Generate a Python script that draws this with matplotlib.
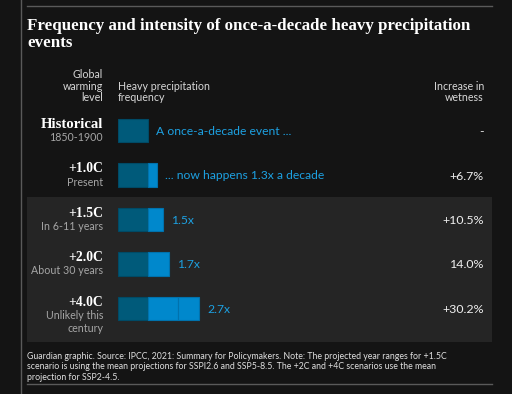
import matplotlib
matplotlib.use("Agg")
import matplotlib.pyplot as plt
from matplotlib.patches import Rectangle

# ---- data ----
levels = ["Historical", "+1.0C", "+1.5C", "+2.0C", "+4.0C"]
sublabels = ["1850-1900", "Present", "In 6-11 years", "About 30 years", "Unlikely this\ncentury"]
frequency = [1.0, 1.3, 1.5, 1.7, 2.7]
freq_labels = ["A once-a-decade event ...", "... now happens 1.3x a decade", "1.5x", "1.7x", "2.7x"]
wetness = ["-", "+6.7%", "+10.5%", "14.0%", "+30.2%"]

W, H = 512, 394
BG = "#141414"
PANEL = "#252525"
DARK = "#005a7a"
BRIGHT = "#0088cc"
EDGE_D = "#004a66"
EDGE_B = "#0072ad"
TXTBLUE = "#1da1e2"
GREY = "#a6a6a6"
WHITE = "#f0f0f0"
SANS = ["Lato", "DejaVu Sans"]
SERIF = ["Liberation Serif", "DejaVu Serif"]

fig = plt.figure(figsize=(W / 100, H / 100), dpi=100, facecolor=BG)
bg = fig.add_axes([0, 0, 1, 1])
bg.set_xlim(0, W)
bg.set_ylim(H, 0)
bg.axis("off")
bg.set_facecolor(BG)

# frame lines
bg.plot([20.5, 20.5], [0, H], color="#5a5a5a", lw=1)
bg.plot([27, 492], [5.5, 5.5], color="#5a5a5a", lw=1)
bg.plot([27, 492], [383.5, 383.5], color="#5a5a5a", lw=1)
# shaded panel
bg.add_patch(Rectangle((27, 197), 465, 145, facecolor=PANEL, edgecolor="none"))

# title
bg.text(27, 34.5, "Frequency and intensity of once-a-decade heavy precipitation\nevents",
        family=SERIF, weight="bold", fontsize=12.2, color="white", va="center",
        linespacing=1.05)

# headers
hs = 7.7
bg.text(103, 86, "Global\nwarming\nlevel", family=SANS, fontsize=hs, color="#d8d8d8",
        ha="right", va="center", linespacing=1.1)
bg.text(118, 92, "Heavy precipitation\nfrequency", family=SANS, fontsize=hs, color="#d8d8d8",
        ha="left", va="center", linespacing=1.1)
bg.text(484, 92, "Increase in\nwetness", family=SANS, fontsize=hs, color="#d8d8d8",
        ha="right", va="center", linespacing=1.1)

# bar axes: x in frequency units (30 px per unit), rows by index
x0, x1 = 118, 484
ytop, ybot = 108.25, 330.75
ax = fig.add_axes([x0 / W, 1 - ybot / H, (x1 - x0) / W, (ybot - ytop) / H])
ax.set_xlim(0, (x1 - x0) / 30)
ax.set_ylim(len(levels) - 0.5, -0.5)
ax.axis("off")
ax.patch.set_alpha(0)

bh = 0.52
for i, f in enumerate(frequency):
    # first unit dark
    ax.barh(i, min(f, 1.0), left=0, height=bh, color=DARK, edgecolor=EDGE_D, lw=0.8)
    rem = f - 1.0
    left = 1.0
    while rem > 1e-9:
        seg = min(1.0, rem)
        ax.barh(i, seg, left=left, height=bh, color=BRIGHT, edgecolor=EDGE_B, lw=0.8)
        left += seg
        rem -= seg
    ax.text(f + 0.27, i + 0.02, freq_labels[i], family=SANS, fontsize=8.7, color=TXTBLUE,
            ha="left", va="center")
    # left labels
    ypix = ytop + (i + 0.5) * (ybot - ytop) / len(levels)
    big = 10.6 if i == 0 else 9.8
    bg.text(103, ypix - 6.5, levels[i], family=SERIF, weight="bold", fontsize=big,
            color="white", ha="right", va="center")
    bg.text(103, ypix + 7 + (6.5 if "\n" in sublabels[i] else 0), sublabels[i], family=SANS,
            fontsize=7.7, color=GREY, ha="right", va="center", linespacing=1.2)
    bg.text(484, ypix + 1, wetness[i], family=SANS, fontsize=8.9, color=WHITE,
            ha="right", va="center")

# footnote
bg.text(27, 352, "Guardian graphic. Source: IPCC, 2021: Summary for Policymakers. Note: The projected year ranges for +1.5C\n"
        "scenario is using the mean projections for SSPI2.6 and SSP5-8.5. The +2C and +4C scenarios use the mean\n"
        "projection for SSP2-4.5.", family=SANS, fontsize=6.3, color="#e0e0e0",
        ha="left", va="top", linespacing=1.2)

fig.savefig("out.png", dpi=100, facecolor=BG)
